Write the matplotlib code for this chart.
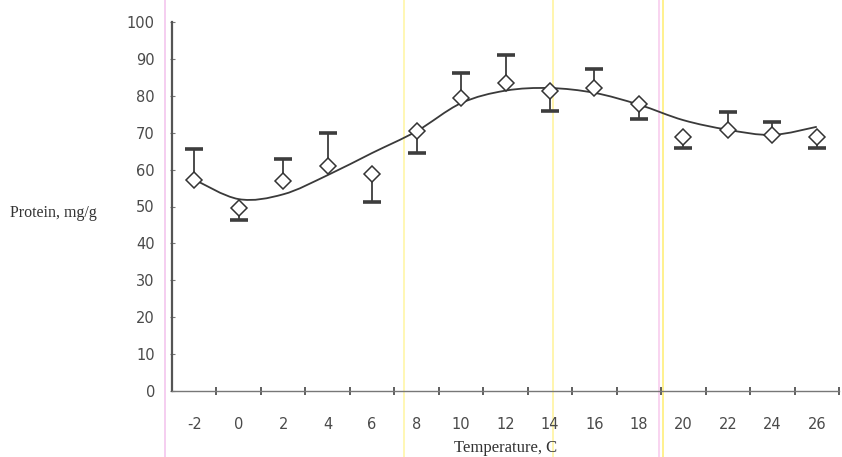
import numpy as np
import matplotlib
matplotlib.use("Agg")
import matplotlib.pyplot as plt
from matplotlib.path import Path
from matplotlib.patches import PathPatch
from matplotlib.lines import Line2D

# ---- data ----
temperatures = ["-2", "0", "2", "4", "6", "8", "10", "12", "14", "16", "18", "20", "22", "24", "26"]
protein = [57.3, 49.7, 57.0, 61.1, 58.7, 70.5, 79.5, 83.4, 81.3, 82.2, 77.7, 68.9, 70.7, 69.4, 68.9]
err_upper = [8.3, 0, 6.0, 8.7, 0, 0, 6.6, 7.6, 0, 5.0, 0, 0, 4.8, 3.6, 0]
err_lower = [0, 3.4, 0, 0, 7.4, 6.1, 0, 0, 5.4, 0, 4.0, 3.0, 0, 0, 3.0]
trend = [57.3, 52.0, 53.3, 58.5, 64.5, 70.4, 78.0, 81.4, 82.1, 80.8, 77.6, 73.4, 70.8, 69.4, 71.6]
y_ticks = [0, 10, 20, 30, 40, 50, 60, 70, 80, 90, 100]

W, H = 842, 457
fig = plt.figure(figsize=(W / 100, H / 100), dpi=100)
fig.patch.set_facecolor("white")

# faint coloured scan streaks (behind everything)
for xp, col in [(165, "#f4c6ee"), (404, "#fff6a8"), (553, "#fff3a0"), (659, "#f8cdee"), (663, "#ffef7a")]:
    fig.add_artist(Line2D([xp / W, xp / W], [0, 1], transform=fig.transFigure, color=col, lw=1.2, zorder=-5))

ax = fig.add_axes([172 / W, 1 - 391 / H, (839 - 172) / W, (391 - 22) / H])
ax.patch.set_visible(False)

x = np.arange(len(temperatures))
p = np.array(protein)
up = np.array(err_upper)
lo = np.array(err_lower)

# smoothed trend line (Excel-like smoothed curve via cubic Bezier)
t = np.array(trend)
pts = np.column_stack([x, t]).astype(float)
verts = [tuple(pts[0])]
codes = [Path.MOVETO]
n = len(pts)
for i in range(n - 1):
    p0 = pts[i - 1] if i > 0 else pts[i]
    p1 = pts[i]
    p2 = pts[i + 1]
    p3 = pts[i + 2] if i + 2 < n else pts[i + 1]
    c1 = p1 + (p2 - p0) / 6.0
    c2 = p2 - (p3 - p1) / 6.0
    verts += [tuple(c1), tuple(c2), tuple(p2)]
    codes += [Path.CURVE4] * 3
ax.add_patch(PathPatch(Path(verts, codes), fill=False, edgecolor="#3a3a3a", lw=1.3, zorder=3))

# one-sided error bars
bar_col = "#3d3d3d"
mu = up > 0
ml = lo > 0
ax.vlines(x[mu], p[mu], p[mu] + up[mu], color=bar_col, lw=1.3, zorder=2)
ax.vlines(x[ml], p[ml] - lo[ml], p[ml], color=bar_col, lw=1.3, zorder=2)
ax.plot(x[mu], p[mu] + up[mu], ls="none", marker="_", ms=12.5, mew=2.6, color=bar_col, zorder=2)
ax.plot(x[ml], p[ml] - lo[ml], ls="none", marker="_", ms=12.5, mew=2.6, color=bar_col, zorder=2)

# diamonds
ax.plot(x, p, ls="none", marker="D", ms=8.2, mfc="white", mec="#333333", mew=1.1, zorder=5)

ax.set_xlim(-0.5, len(temperatures) - 0.5)
ax.set_ylim(0, 100)
for s in ["top", "right"]:
    ax.spines[s].set_visible(False)
ax.spines["left"].set_color("#555555")
ax.spines["left"].set_linewidth(1.6)
ax.spines["bottom"].set_color("#777777")
ax.spines["bottom"].set_linewidth(1.0)

ax.set_yticks(y_ticks)
ax.set_yticklabels([str(v) for v in y_ticks])
ax.tick_params(axis="y", direction="inout", length=3.6, width=0.8, color="#777777",
               labelsize=10.5, labelcolor="#4a4a4a", pad=10.5)
ax.set_xticks(x)
ax.set_xticklabels(temperatures)
ax.tick_params(axis="x", which="major", length=0, labelsize=10.5, labelcolor="#4a4a4a", pad=19)
ax.set_xticks(np.arange(0.5, len(temperatures), 1.0), minor=True)
ax.tick_params(axis="x", which="minor", direction="inout", length=6, width=1.1, color="#333333")
for lab in ax.get_xticklabels() + ax.get_yticklabels():
    lab.set_family("DejaVu Sans")

fig.text(10 / W, 1 - 213 / H, "Protein, mg/g", family="Liberation Serif", fontsize=11.5,
         color="#333333", ha="left", va="center")
fig.text(506 / W, 1 - 448 / H, "Temperature, C", family="Liberation Serif", fontsize=12,
         color="#333333", ha="center", va="center")

fig.savefig("out.png", dpi=100, facecolor="white")
